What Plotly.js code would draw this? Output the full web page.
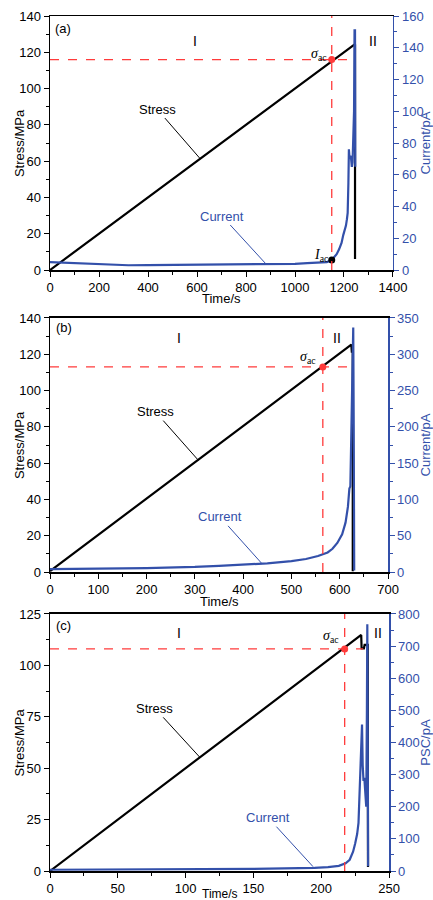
<!DOCTYPE html>
<html><head><meta charset="utf-8">
<script src="https://cdn.plot.ly/plotly-3.0.1.min.js"></script>
<style>html,body{margin:0;padding:0;background:#fff}#chart{width:433px;height:900px}</style>
</head><body><div id="chart"></div>
<script>
// ---------- Panel (a) ----------
const stressA_t = [0, 1240, 1245, 1245];
const stressA_v = [0, 124.5, 124.5, 6];
const currentA_t = [0, 30, 60, 100, 150, 200, 250, 300, 320, 400, 500, 600, 700, 800, 900, 1000, 1050, 1100, 1130, 1150, 1160, 1170, 1180, 1190, 1197, 1203, 1208, 1212, 1215, 1218, 1220, 1223, 1226, 1229, 1232, 1235, 1238, 1241, 1243, 1245, 1246];
const currentA_v = [5, 4.8, 4.5, 4.2, 3.9, 3.6, 3.4, 2.9, 3.0, 3.1, 3.2, 3.2, 3.2, 3.3, 3.5, 3.9, 4.3, 4.6, 5.0, 6.3, 8, 10, 13, 17, 22, 25, 28, 32, 36, 55, 76, 70, 72, 70, 65, 68, 80, 100, 151, 151, 65];
const acA = {t: 1150, stress: 116, current: 6.3};

// ---------- Panel (b) ----------
const stressB_t = [0, 624, 625, 627, 627];
const stressB_v = [0.5, 125.3, 121.5, 121.5, 0.5];
const currentB_t = [0, 50, 100, 150, 200, 250, 300, 350, 400, 450, 500, 530, 555, 565, 575, 585, 595, 605, 612, 617, 620, 622, 624, 625, 626, 627, 628, 629, 630];
const currentB_v = [4, 4, 4.5, 5, 5.5, 6, 7, 8.5, 10, 12, 15, 18, 22, 24, 27, 32, 40, 52, 68, 90, 115, 118, 180, 250, 240, 300, 337, 200, 2];
const acB = {t: 565, stress: 113};

// ---------- Panel (c) ----------
const stressC_t = [0, 229.5, 229.8, 231.5, 232, 234.3, 234.5];
const stressC_v = [0, 114.8, 108.3, 108.3, 110, 110, 2];
const currentC_t = [0, 50, 100, 150, 195, 205, 213, 218, 221, 223.5, 225, 226.5, 227.5, 228.4, 229.2, 230.1, 230.6, 231.2, 231.8, 232.5, 233.2, 233.7, 234, 234.4, 234.6];
const currentC_v = [4, 4.5, 5, 6.5, 10, 12, 16, 24, 35, 60, 85, 115, 150, 250, 350, 456, 330, 280, 290, 240, 200, 500, 768, 300, 15];
const acC = {t: 217.3, stress: 108};

// tick / label text
const panelLabels = ['(a)', '(b)', '(c)'];
const stageLabels = ['I', 'II'];
const xTitle = 'Time/s';
const yTitle = 'Stress/MPa';
const y2Titles = ['Current/pA', 'Current/pA', 'PSC/pA'];

const BLUE = '#3350aa';
const RED = '#ff3b3b';
const FONT = 'Liberation Sans, Arial, sans-serif';
const SERIF = 'Liberation Serif, Times New Roman, serif';

function stressTrace(t, v, xa, ya) {
  return {x: t, y: v, xaxis: xa, yaxis: ya, mode: 'lines', line: {color: '#000', width: 2.2}, showlegend: false, hoverinfo: 'skip'};
}
function currentTrace(t, v, xa, ya) {
  return {x: t, y: v, xaxis: xa, yaxis: ya, mode: 'lines', line: {color: BLUE, width: 2.2}, showlegend: false, hoverinfo: 'skip'};
}
function pointTrace(t, v, xa, ya, color) {
  return {x: [t], y: [v], xaxis: xa, yaxis: ya, mode: 'markers', marker: {color: color, size: 7}, showlegend: false, hoverinfo: 'skip'};
}

const data = [
  stressTrace(stressA_t, stressA_v, 'x', 'y'),
  pointTrace(acA.t, acA.stress, 'x', 'y', RED),
  currentTrace(currentA_t, currentA_v, 'x', 'y2'),
  pointTrace(acA.t, acA.current, 'x', 'y2', '#000'),
  stressTrace(stressB_t, stressB_v, 'x2', 'y3'),
  pointTrace(acB.t, acB.stress, 'x2', 'y3', RED),
  currentTrace(currentB_t, currentB_v, 'x2', 'y4'),
  stressTrace(stressC_t, stressC_v, 'x3', 'y5'),
  pointTrace(acC.t, acC.stress, 'x3', 'y5', RED),
  currentTrace(currentC_t, currentC_v, 'x3', 'y6'),
];

const tickFont = {family: FONT, size: 13, color: '#000'};
function xAxis(dom, anchor, range, dtick) {
  return {domain: dom, anchor: anchor, range: range, dtick: dtick, tick0: 0,
    ticks: 'outside', ticklen: 5, tickwidth: 1, tickcolor: '#000',
    minor: {dtick: dtick / 2, ticks: 'outside', ticklen: 3, tickcolor: '#000'},
    showline: true, linecolor: '#000', linewidth: 1.5, mirror: true,
    showgrid: false, zeroline: false, tickfont: tickFont};
}
function yAxis(dom, anchor, range, dtick) {
  return {domain: dom, anchor: anchor, range: range, dtick: dtick, tick0: 0,
    ticks: 'outside', ticklen: 5, tickwidth: 1, tickcolor: '#000',
    minor: {dtick: dtick / 2, ticks: 'outside', ticklen: 3, tickcolor: '#000'},
    showline: true, linecolor: '#000', linewidth: 1.5,
    showgrid: false, zeroline: false, tickfont: tickFont};
}
function y2Axis(over, anchor, range, dtick, title) {
  return {overlaying: over, side: 'right', anchor: anchor, range: range, dtick: dtick, tick0: 0,
    ticks: 'outside', ticklen: 5, tickwidth: 1, tickcolor: BLUE,
    minor: {dtick: dtick / 2, ticks: 'outside', ticklen: 3, tickcolor: BLUE},
    showline: true, linecolor: BLUE, linewidth: 1.5,
    showgrid: false, zeroline: false, tickfont: {family: FONT, size: 13, color: BLUE},
    title: {text: title, font: {family: FONT, size: 13, color: BLUE}, standoff: 4}};
}

const xDomA = [0.1155, 0.9076], yDomA = [0.70, 0.9822];
const xDomB = [0.1155, 0.8961], yDomB = [0.3644, 0.6467];
const xDomC = [0.1155, 0.8984], yDomC = [0.0322, 0.3178];

function dashShapes(xa, ya, ac, xEnd) {
  return [
    {type: 'line', xref: xa, yref: ya + ' domain', x0: ac.t, x1: ac.t, y0: 0, y1: 1, line: {color: RED, width: 1.3, dash: 'dash'}},
    {type: 'line', xref: xa, yref: ya, x0: 0, x1: xEnd, y0: ac.stress, y1: ac.stress, line: {color: RED, width: 1.3, dash: 'dash'}},
  ];
}

function txt(x, y, xa, ya, text, size, color, fam) {
  return {x: x, y: y, xref: xa, yref: ya, text: text, showarrow: false,
    font: {family: fam || FONT, size: size || 13, color: color || '#000'}, xanchor: 'center', yanchor: 'middle'};
}
function lead(x, y, ax, ay, xa, ya, text, color) {
  return {x: x, y: y, ax: ax, ay: ay, xref: xa, yref: ya, axref: xa, ayref: ya, text: text,
    showarrow: true, arrowhead: 0, arrowwidth: 1, arrowcolor: color, standoff: 0, startstandoff: 0,
    font: {family: FONT, size: 13, color: color}};
}
function xTitleAnn(xa, yPaper, size) {
  return {x: 0.5, y: yPaper, xref: xa + ' domain', yref: 'paper', text: xTitle, showarrow: false,
    font: {family: FONT, size: size || 13, color: '#000'}, xanchor: 'center', yanchor: 'middle'};
}
function yTitleAnn(ya) {
  return {x: 0.044, y: 0.5, xref: 'paper', yref: ya + ' domain', text: yTitle, showarrow: false, textangle: -90,
    font: {family: FONT, size: 13, color: '#000'}, xanchor: 'center', yanchor: 'middle'};
}
const sigma = '<i>σ</i><sub>ac</sub>';
const iac = '<i>I</i><sub>ac</sub>';

const annotations = [
  txt(55, 133, 'x', 'y', panelLabels[0], 13, '#000'),
  txt(590, 126, 'x', 'y', stageLabels[0], 14, '#000'),
  txt(1318, 126, 'x', 'y', stageLabels[1], 14, '#000'),
  txt(1100, 119, 'x', 'y', sigma, 14, '#000', SERIF),
  txt(1110, 8, 'x', 'y', iac, 14, '#000', SERIF),
  lead(612, 61.5, 437, 88.7, 'x', 'y', 'Stress', '#000'),
  lead(878, 4.4, 702, 34, 'x', 'y2', 'Current', BLUE),
  xTitleAnn('x', 0.6678),
  yTitleAnn('y'),

  txt(28, 134.5, 'x2', 'y3', panelLabels[1], 13, '#000'),
  txt(267, 129, 'x2', 'y3', stageLabels[0], 14, '#000'),
  txt(594, 129, 'x2', 'y3', stageLabels[1], 14, '#000'),
  txt(535, 118, 'x2', 'y3', sigma, 14, '#000', SERIF),
  lead(307.5, 61.5, 218, 88.4, 'x2', 'y3', 'Stress', '#000'),
  lead(439, 11.5, 352, 76, 'x2', 'y4', 'Current', BLUE),
  xTitleAnn('x2', 0.3322),
  yTitleAnn('y3'),

  txt(10, 119.2, 'x3', 'y5', panelLabels[2], 13, '#000'),
  txt(95, 115.6, 'x3', 'y5', stageLabels[0], 14, '#000'),
  txt(242, 115.6, 'x3', 'y5', stageLabels[1], 14, '#000'),
  txt(207, 114, 'x3', 'y5', sigma, 14, '#000', SERIF),
  lead(110.5, 55.3, 77.4, 79.1, 'x3', 'y5', 'Stress', '#000'),
  lead(194, 13.5, 160.9, 166, 'x3', 'y6', 'Current', BLUE),
  xTitleAnn('x3', 0.0072, 12),
  yTitleAnn('y5'),
];

const layout = {
  width: 433, height: 900,
  margin: {l: 0, r: 0, t: 0, b: 0},
  paper_bgcolor: '#fff', plot_bgcolor: 'rgba(0,0,0,0)',
  font: {family: FONT, size: 13, color: '#000'},
  showlegend: false,
  xaxis: xAxis(xDomA, 'y', [0, 1400], 200),
  yaxis: yAxis(yDomA, 'x', [0, 140], 20),
  yaxis2: y2Axis('y', 'x', [0, 160], 20, y2Titles[0]),
  xaxis2: xAxis(xDomB, 'y3', [0, 700], 100),
  yaxis3: yAxis(yDomB, 'x2', [0, 140], 20),
  yaxis4: y2Axis('y3', 'x2', [0, 350], 50, y2Titles[1]),
  xaxis3: xAxis(xDomC, 'y5', [0, 250], 50),
  yaxis5: yAxis(yDomC, 'x3', [0, 125], 25),
  yaxis6: y2Axis('y5', 'x3', [0, 800], 100, y2Titles[2]),
  shapes: [].concat(dashShapes('x', 'y', acA, 1240), dashShapes('x2', 'y3', acB, 618), dashShapes('x3', 'y5', acC, 231)),
  annotations: annotations,
};

Plotly.newPlot('chart', data, layout, {staticPlot: true, displayModeBar: false});
</script></body></html>
